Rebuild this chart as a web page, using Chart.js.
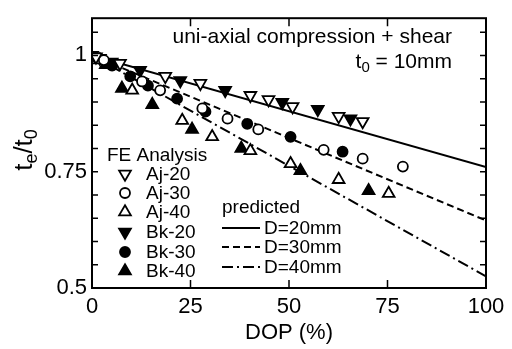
<!DOCTYPE html>
<html>
<head>
<meta charset="utf-8">
<script src="https://cdn.jsdelivr.net/npm/chart.js@4.4.1/dist/chart.umd.min.js"></script>
<style>
  body { margin: 0; background: #fff; }
</style>
</head>
<body>
<canvas id="chart1" width="512" height="349"></canvas>
<script>
// FE analysis results (DOP in %, te/t0)
let aj20X = [1, 7.1, 18.6, 27.5, 40.2, 44.8, 50.9, 62.6, 68.7];
let aj20Y = [0.997, 0.983, 0.955, 0.940, 0.914, 0.905, 0.890, 0.869, 0.858];
let bk20X = [0, 2, 5, 12.2, 22.4, 33.8, 48.3, 57.3, 65.6];
let bk20Y = [1.0, 0.994, 0.986, 0.968, 0.946, 0.925, 0.899, 0.884, 0.864];
let aj30X = [3, 12.7, 17.3, 28.0, 34.4, 42.2, 58.8, 68.7, 78.9];
let aj30Y = [0.99, 0.944, 0.925, 0.886, 0.864, 0.841, 0.797, 0.778, 0.761];
let bk30X = [1.5, 5.1, 9.7, 14.2, 21.6, 28.8, 39.4, 50.4, 63.6];
let bk30Y = [0.994, 0.978, 0.955, 0.935, 0.907, 0.879, 0.853, 0.825, 0.793];
let aj40X = [2, 10.2, 22.9, 30.5, 40.2, 50.4, 62.6, 75.3];
let aj40Y = [0.99, 0.925, 0.860, 0.825, 0.795, 0.767, 0.733, 0.703];
let bk40X = [3.5, 7.6, 15.3, 25.4, 37.9, 52.9, 70.2];
let bk40Y = [0.98, 0.929, 0.894, 0.841, 0.800, 0.752, 0.709];

// predicted lines
let predX = [0, 100];
let predD20 = [1, 0.76];
let predD30 = [1, 0.645];
let predD40 = [1, 0.525];

let xTicks = [0, 25, 50, 75, 100];
let yLabels = [0.5, 0.75, 1];

const FONT = "'Liberation Sans', Arial, sans-serif";

function pts(xs, ys) {
    let out = [];
    for (let i = 0; i < xs.length; i++) out.push({x: xs[i], y: ys[i]});
    return out;
}

function marker(label, xs, ys, style, filled, down) {
    return {
        type: "scatter",
        label: label,
        data: pts(xs, ys),
        pointStyle: style,
        rotation: down ? 180 : 0,
        pointRadius: style == "circle" ? 5 : 6.8,
        pointHoverRadius: style == "circle" ? 5 : 6.8,
        borderColor: "#000",
        backgroundColor: filled ? "#000" : "#fff",
        pointBorderWidth: 1.8,
        order: 1
    };
}

function predLine(label, ys, dash) {
    return {
        type: "line",
        label: label,
        data: pts(predX, ys),
        borderColor: "#000",
        borderWidth: 2,
        borderDash: dash,
        pointRadius: 0,
        fill: false,
        order: 2
    };
}

let feSets = [
    marker("Aj-20", aj20X, aj20Y, "triangle", false, true),
    marker("Aj-30", aj30X, aj30Y, "circle", false, false),
    marker("Aj-40", aj40X, aj40Y, "triangle", false, false),
    marker("Bk-20", bk20X, bk20Y, "triangle", true, true),
    marker("Bk-30", bk30X, bk30Y, "circle", true, false),
    marker("Bk-40", bk40X, bk40Y, "triangle", true, false)
];
let predSets = [
    predLine("D=20mm", predD20, []),
    predLine("D=30mm", predD30, [7, 4]),
    predLine("D=40mm", predD40, [11, 4, 2, 4])
];

function drawMarker(ctx, x, y, ds) {
    let r = ds.pointRadius;
    ctx.save();
    ctx.lineWidth = ds.pointBorderWidth;
    ctx.strokeStyle = "#000";
    ctx.fillStyle = ds.backgroundColor;
    ctx.beginPath();
    if (ds.pointStyle == "circle") {
        ctx.arc(x, y, r, 0, Math.PI * 2);
    } else {
        let s = ds.rotation == 180 ? -1 : 1;
        ctx.moveTo(x, y - s * r);
        ctx.lineTo(x + r * 0.866, y + s * r * 0.5);
        ctx.lineTo(x - r * 0.866, y + s * r * 0.5);
        ctx.closePath();
    }
    ctx.fill();
    ctx.stroke();
    ctx.restore();
}

function subText(ctx, x, y, parts, size) {
    // parts: [text, isSub]
    for (let p of parts) {
        if (p[1]) {
            ctx.font = Math.round(size * 0.7) + "px " + FONT;
            ctx.fillText(p[0], x, y + size * 0.28);
        } else {
            ctx.font = size + "px " + FONT;
            ctx.fillText(p[0], x, y);
        }
        x += ctx.measureText(p[0]).width;
    }
    return x;
}

function partsWidth(ctx, parts, size) {
    let w = 0;
    for (let p of parts) {
        ctx.font = (p[1] ? Math.round(size * 0.7) : size) + "px " + FONT;
        w += ctx.measureText(p[0]).width;
    }
    return w;
}

let framePlugin = {
    id: "frame",
    afterDraw(chart) {
        let ctx = chart.ctx;
        let a = chart.chartArea;
        let xs = chart.scales.x, ys = chart.scales.y;
        ctx.save();
        ctx.strokeStyle = "#000";
        ctx.lineWidth = 2;
        ctx.strokeRect(a.left, a.top, a.right - a.left, a.bottom - a.top);
        ctx.lineWidth = 1.5;
        ctx.beginPath();
        // inward ticks on y every 0.05
        for (let v = 0.55; v < 1.08; v += 0.05) {
            let py = ys.getPixelForValue(v);
            ctx.moveTo(a.left, py); ctx.lineTo(a.left + 6, py);
            ctx.moveTo(a.right, py); ctx.lineTo(a.right - 6, py);
        }
        for (let t of [25, 50, 75]) {
            let px = xs.getPixelForValue(t);
            ctx.moveTo(px, a.bottom); ctx.lineTo(px, a.bottom - 8);
            ctx.moveTo(px, a.top); ctx.lineTo(px, a.top + 8);
        }
        ctx.stroke();

        // y title te/t0 (rotated)
        ctx.fillStyle = "#000";
        ctx.textBaseline = "middle";
        ctx.textAlign = "left";
        ctx.save();
        ctx.translate(25, 150);
        ctx.rotate(-Math.PI / 2);
        let yt = [["t", false], ["e", true], ["/t", false], ["0", true]];
        let w = partsWidth(ctx, yt, 26);
        subText(ctx, -w / 2, 0, yt, 26);
        ctx.restore();

        // annotation
        let l1 = "uni-axial compression + shear";
        ctx.font = "21px " + FONT;
        ctx.fillText(l1, 452 - ctx.measureText(l1).width, 37);
        let l2 = [["t", false], ["0", true], [" = 10mm", false]];
        subText(ctx, 452 - partsWidth(ctx, l2, 21), 62, l2, 21);

        // legend: FE analysis
        ctx.font = "19px " + FONT;
        ctx.fillText("FE Analysis", 107, 156);
        let rowY = [174, 193, 212, 232, 252, 271];
        for (let i = 0; i < feSets.length; i++) {
            drawMarker(ctx, 125, rowY[i], feSets[i]);
            ctx.font = "19px " + FONT;
            ctx.fillText(feSets[i].label, 146, rowY[i] + 1);
        }
        // legend: predicted
        ctx.fillText("predicted", 222, 208);
        let lineY = [228, 247, 267];
        for (let i = 0; i < predSets.length; i++) {
            ctx.beginPath();
            ctx.lineWidth = 2;
            ctx.setLineDash(predSets[i].borderDash);
            ctx.moveTo(222, lineY[i]); ctx.lineTo(260, lineY[i]);
            ctx.stroke();
            ctx.setLineDash([]);
            ctx.fillText(predSets[i].label, 264, lineY[i] + 1);
        }
        ctx.restore();
    }
};

let ctx = document.getElementById("chart1").getContext("2d");
let chart1 = new Chart(ctx, {
    data: { datasets: feSets.concat(predSets) },
    options: {
        responsive: false,
        animation: false,
        layout: { padding: { top: 17, right: 26, left: 0, bottom: 0 } },
        plugins: { legend: { display: false }, tooltip: { enabled: false } },
        scales: {
            x: {
                type: "linear",
                min: 0, max: 100,
                grid: { display: false, drawTicks: false },
                border: { display: false },
                afterFit(scale) { scale.height = 61; },
                ticks: {
                    stepSize: 25, padding: 6, color: "#000",
                    font: { family: FONT, size: 22 },
                    callback: (v) => xTicks.includes(v) ? String(v) : ""
                },
                title: {
                    display: true, text: "DOP (%)", color: "#000",
                    font: { family: FONT, size: 22 },
                    padding: { top: 0, bottom: 3 }
                }
            },
            y: {
                type: "linear",
                min: 0.5, max: 1.08,
                grid: { display: false, drawTicks: false },
                border: { display: false },
                afterFit(scale) { scale.width = 92; },
                ticks: {
                    stepSize: 0.05, padding: 5, color: "#000", autoSkip: false,
                    font: { family: FONT, size: 22 },
                    callback: function (v) {
                        for (let t of yLabels) if (Math.abs(v - t) < 1e-6) return String(t);
                        return "";
                    }
                }
            }
        }
    },
    plugins: [framePlugin]
});
</script>
</body>
</html>
